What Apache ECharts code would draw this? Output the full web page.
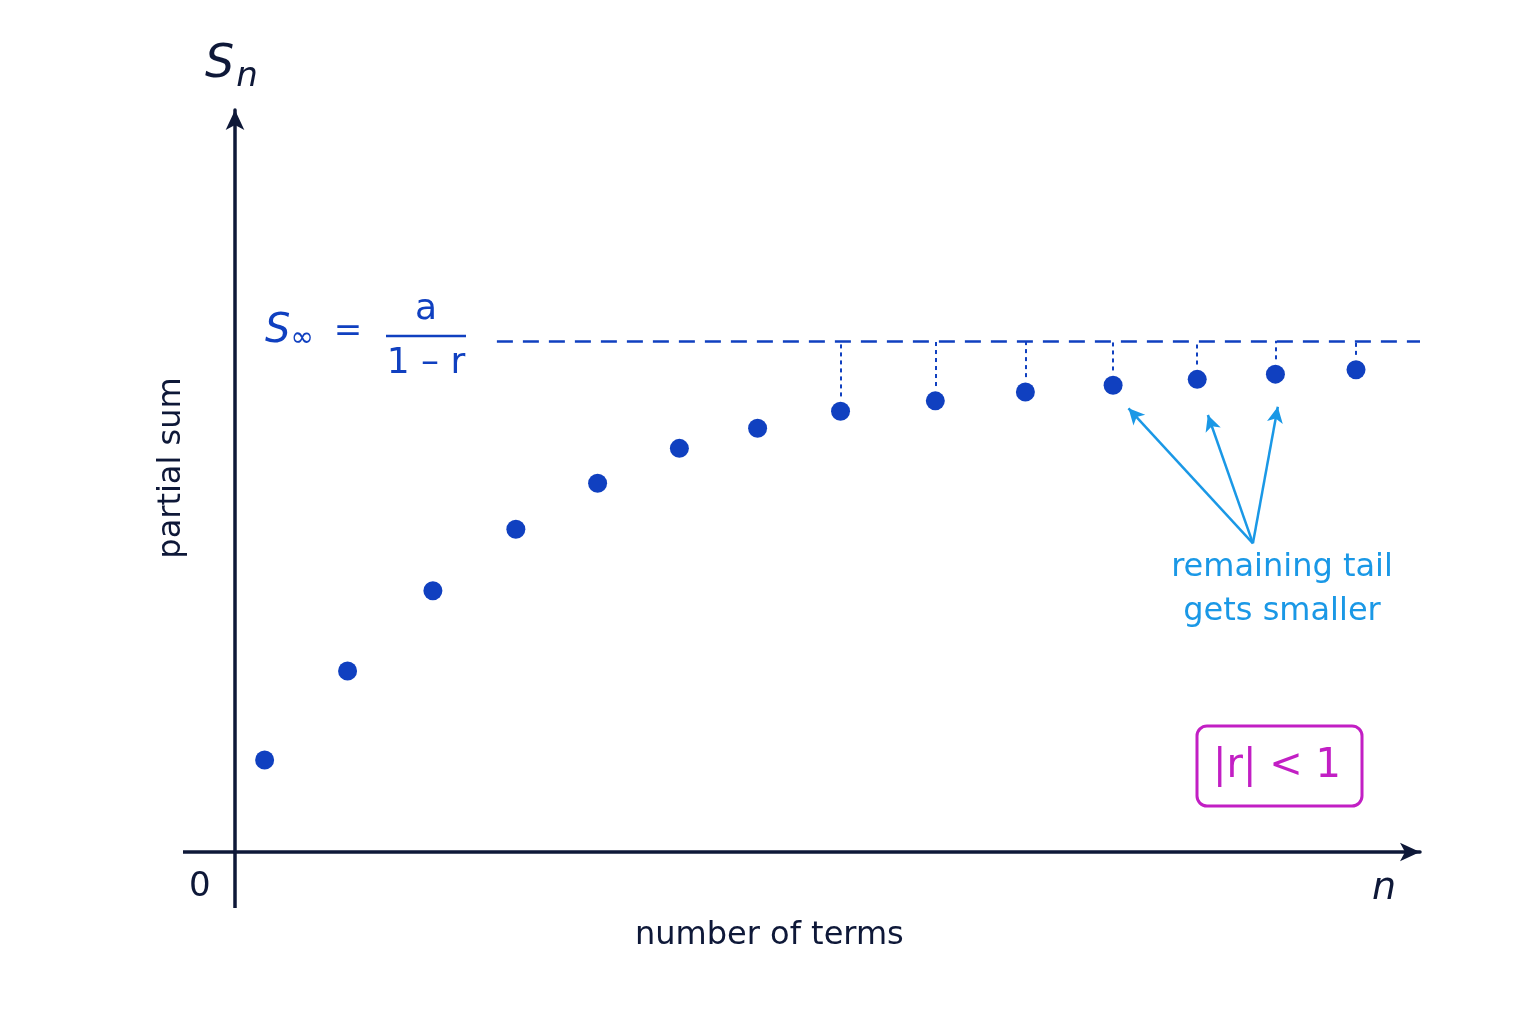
<!DOCTYPE html>
<html><head><meta charset="utf-8">
<script src="https://cdn.jsdelivr.net/npm/echarts@6/dist/echarts.min.js"></script>
<style>html,body{margin:0;background:#fff}#c{width:1536px;height:1024px}</style>
</head><body><div id="c"></div>
<script>
const xVals = [2.5, 9.5, 16.7, 23.7, 30.6, 37.5, 44.1, 51.1, 59.1, 66.7, 74.1, 81.2, 87.8, 94.6];
const sVals = [12.4, 24.4, 35.2, 43.5, 49.7, 54.4, 57.1, 59.4, 60.8, 62.0, 62.9, 63.7, 64.4, 65.0];
const limit = 68.9;
const tailFrom = 7;
const arrowStart = [85.9, 41.6];
const arrowTargets = [[75.4, 59.8], [82.1, 58.9], [88.0, 60.0]];

const navy = '#0e1838', blue = '#1040c0', light = '#1a98e6', mag = '#c21fc4';
const font = 'DejaVu Sans';
const chart = echarts.init(document.getElementById('c'));
const drops = [];
for (let i = tailFrom; i < xVals.length; i++) drops.push([{coord:[xVals[i], sVals[i]+2]}, {coord:[xVals[i], limit]}]);
chart.setOption({
  animation:false,
  grid:{left:235,right:116,top:110,bottom:172},
  xAxis:{type:'value',min:0,max:100,axisLine:{lineStyle:{color:navy,width:3.5},symbol:['none','arrow'],symbolSize:[14,20]},
    axisTick:{show:false},axisLabel:{show:false},splitLine:{show:false}},
  yAxis:{type:'value',min:0,max:100,axisLine:{onZero:false,lineStyle:{color:navy,width:3.5},symbol:['none','arrow'],symbolSize:[14,20]},
    axisTick:{show:false},axisLabel:{show:false},splitLine:{show:false}},
  series:[
    {type:'scatter',data:xVals.map((x,i)=>[x,sVals[i]]),symbolSize:19,itemStyle:{color:blue,opacity:1},z:5,
     markLine:{silent:true,symbol:'none',label:{show:false},
       data:[[{coord:[22.1,limit],lineStyle:{type:[16,10],width:2.5,color:blue}},{coord:[100,limit]}],
             ...drops.map(d=>[Object.assign({lineStyle:{type:[4,4],width:2,color:blue}},d[0]),d[1]])]}},
    {type:'line',data:[],markLine:{silent:true,symbol:['none','arrow'],symbolSize:[12,16],label:{show:false},
       lineStyle:{color:light,width:2.5,type:'solid'},
       data:arrowTargets.map(t=>[{coord:arrowStart},{coord:t}])}}
  ],
  graphic:[
    {type:'line',shape:{x1:183,y1:852,x2:235,y2:852},style:{stroke:navy,lineWidth:3.5}},
    {type:'line',shape:{x1:235,y1:852,x2:235,y2:908},style:{stroke:navy,lineWidth:3.5}},
    {type:'text',left:205,top:42,style:{text:'{s|S}{n|n}',rich:{s:{font:'italic 46px '+font,fill:navy},n:{font:'italic 34px '+font,fill:navy,padding:[24,0,0,2]}}}},
    {type:'text',left:1372,top:870,style:{text:'n',font:'italic 38px '+font,fill:navy}},
    {type:'text',left:189,top:870,style:{text:'0',font:'34px '+font,fill:navy}},
    {type:'text',left:635,top:920,style:{text:'number of terms',font:'32px '+font,fill:navy}},
    {type:'text',x:172,y:468,rotation:Math.PI/2,style:{text:'partial sum',font:'32px '+font,fill:navy,align:'center',verticalAlign:'middle'}},
    {type:'text',left:265,top:312,style:{text:'{s|S}{i|∞}{e|=}',rich:{s:{font:'italic 40px '+font,fill:blue},i:{font:'28px '+font,fill:blue,padding:[14,0,0,0]},e:{font:'34px '+font,fill:blue,padding:[0,0,0,20]}}}},
    {type:'text',x:426,y:310,style:{text:'a',font:'36px '+font,fill:blue,align:'center',verticalAlign:'middle'}},
    {type:'line',shape:{x1:386,y1:336,x2:466,y2:336},style:{stroke:blue,lineWidth:2.5}},
    {type:'text',x:426,y:364,style:{text:'1 – r',font:'36px '+font,fill:blue,align:'center',verticalAlign:'middle'}},
    {type:'text',x:1282,y:590,style:{text:'remaining tail\ngets smaller',font:'32px '+font,fill:light,align:'center',verticalAlign:'middle',lineHeight:44}},
    {type:'rect',shape:{x:1197,y:726,width:165,height:80,r:10},style:{stroke:mag,fill:'none',lineWidth:3}},
    {type:'text',x:1277,y:767,style:{text:'|r| < 1',font:'40px '+font,fill:mag,align:'center',verticalAlign:'middle'}}
  ]
});
</script></body></html>
